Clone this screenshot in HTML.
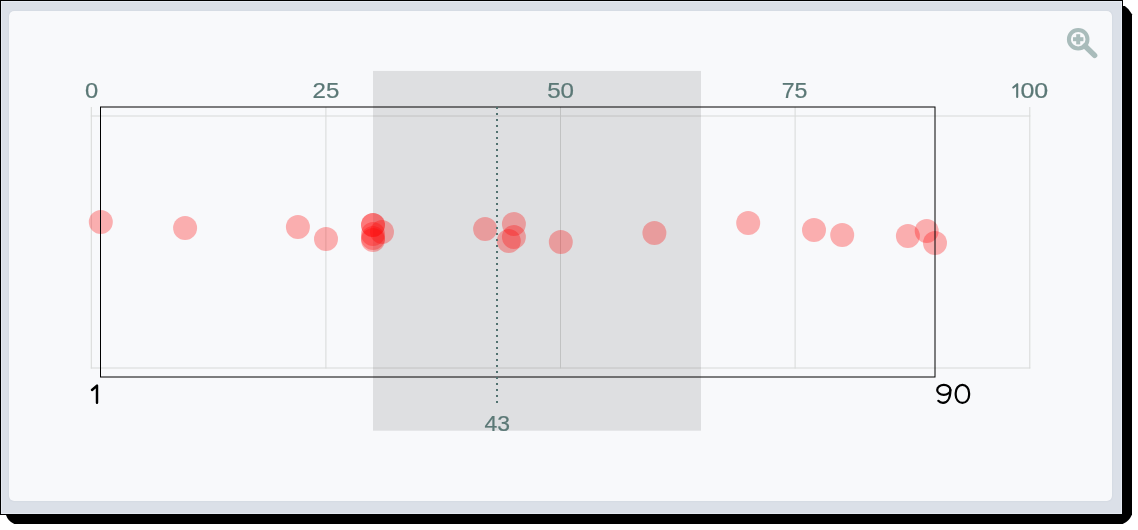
<!DOCTYPE html>
<html>
<head>
<meta charset="utf-8">
<title>Box plot</title>
<style>
  html, body { margin: 0; padding: 0; }
  body {
    width: 1138px; height: 530px; overflow: hidden; position: relative;
    background: #ffffff;
    font-family: "Liberation Sans", sans-serif;
  }
  .shadow { position: absolute; left: 0; top: 0; }
  .frame {
    position: absolute; left: 0; top: 0; width: 1121px; height: 513px;
    border: 1px solid #000; background: #dbe0e8;
    box-shadow: inset 0 0 0 1px #e5eaf2;
  }
  .panel {
    position: absolute; left: 9px; top: 11px; width: 1103px; height: 490px;
    background: #f8f9fb; border-radius: 5px;
    box-shadow: 0 0 1.5px rgba(90,105,130,0.2);
  }
  svg.chart { position: absolute; left: 0; top: 0; will-change: transform; }
  .tick { font-family: "Liberation Sans", sans-serif; font-size: 21.5px; fill: #5b7876; stroke: #5b7876; stroke-width: 0.22px; }
  .ext  { font-family: "Liberation Sans", sans-serif; font-size: 28.5px; fill: #000; }
</style>
</head>
<body>
<svg class="shadow" width="1138" height="530" viewBox="0 0 1138 530"><path d="M6 6 L1124.8 6 Q1129.4 8.9 1132 14.2 L1132 514.4 Q1129.2 521.3 1122.7 524 L14.3 524 Q8 521.3 6 515 Z" fill="#000"/></svg>
<div class="frame"></div>
<div class="panel"></div>
<svg class="chart" width="1138" height="530" viewBox="0 0 1138 530">
  <!-- grid -->
  <g stroke="#d7d9d8" stroke-width="1" fill="none">
    <line x1="91.3" y1="107" x2="91.3" y2="368.5"/>
    <line x1="325.9" y1="107" x2="325.9" y2="368.5"/>
    <line x1="560.5" y1="107" x2="560.5" y2="368.5"/>
    <line x1="795.1" y1="107" x2="795.1" y2="368.5"/>
    <line x1="1029.8" y1="107" x2="1029.8" y2="368.5"/>
    <line x1="90.8" y1="116" x2="1030.3" y2="116"/>
    <line x1="90.8" y1="368" x2="1030.3" y2="368"/>
  </g>

  <!-- interquartile band -->
  <rect x="373" y="70.9" width="328" height="359.8" fill="#000" fill-opacity="0.1"/>

  <!-- tick labels -->
  <g class="tick" text-anchor="middle">
    <text transform="translate(91.5,98) scale(1.105,1)">0</text>
    <text transform="translate(325.9,98) scale(1.12,1)">25</text>
    <text transform="translate(560.6,98) scale(1.125,1)">50</text>
    <text transform="translate(794.5,98) scale(1.077,1)">75</text>
    <text text-anchor="end" transform="translate(1048.2,98) scale(1.163,1)">00</text>
    <path d="M1013.3 87.5 L1017.2 84.2 L1017.2 97" fill="none" stroke="#5b7876" stroke-width="2.1" stroke-linecap="round" stroke-linejoin="round"/>
  </g>

  <!-- points -->
  <g fill="#ff0000" fill-opacity="0.3">
    <circle cx="100.8" cy="222" r="12"/>
    <circle cx="185.1" cy="228" r="12"/>
    <circle cx="297.9" cy="227" r="12"/>
    <circle cx="326" cy="239" r="12"/>
    <circle cx="373" cy="225" r="12"/>
    <circle cx="373" cy="225" r="12"/>
    <circle cx="373" cy="234" r="12"/>
    <circle cx="373" cy="238" r="12"/>
    <circle cx="373" cy="240" r="12"/>
    <circle cx="382" cy="232" r="12"/>
    <circle cx="485.1" cy="229" r="12"/>
    <circle cx="513.9" cy="224" r="12"/>
    <circle cx="513.9" cy="237" r="12"/>
    <circle cx="508.8" cy="241" r="12"/>
    <circle cx="560.8" cy="242" r="12"/>
    <circle cx="654.4" cy="233" r="12"/>
    <circle cx="748.2" cy="223" r="12"/>
    <circle cx="814" cy="230" r="12"/>
    <circle cx="842.2" cy="235" r="12"/>
    <circle cx="907.9" cy="236" r="12"/>
    <circle cx="926.7" cy="231" r="12"/>
    <circle cx="935" cy="243" r="12"/>
  </g>

  <!-- min-max box -->
  <rect x="100.5" y="107" width="834.5" height="270" fill="none" stroke="#000" stroke-width="1"/>

  <!-- median marker -->
  <line x1="497" y1="107" x2="497" y2="403" stroke="#527270" stroke-width="2" stroke-dasharray="2 4"/>
  <text class="tick" text-anchor="middle" transform="translate(497.3,430.5) scale(1.068,1)">43</text>

  <!-- extremes -->
  <path d="M92 390 L97 385.6 L97 402.8" fill="none" stroke="#000" stroke-width="2.45" stroke-linecap="round" stroke-linejoin="round"/>
  <g fill="none" stroke="#000" stroke-width="2.2" stroke-linecap="round">
    <ellipse cx="943.8" cy="389.9" rx="6.6" ry="4.95"/>
    <path d="M950.4 389.9 C950.4 398.2 947.4 402.8 943 402.8 C941 402.8 939.3 402 938.3 400.8"/>
    <rect x="955.7" y="384.95" width="13.4" height="18" rx="6.7" ry="8"/>
  </g>

  <!-- zoom icon -->
  <g stroke="#a9bcbb" fill="none">
    <circle cx="1078.2" cy="39.2" r="9.3" stroke-width="4"/>
    <line x1="1073" y1="39.2" x2="1083.4" y2="39.2" stroke-width="4"/>
    <line x1="1078.2" y1="34.2" x2="1078.2" y2="44.4" stroke-width="4"/>
    <line x1="1085" y1="46" x2="1094.6" y2="55.4" stroke-width="5.5" stroke-linecap="round"/>
  </g>
</svg>
</body>
</html>
